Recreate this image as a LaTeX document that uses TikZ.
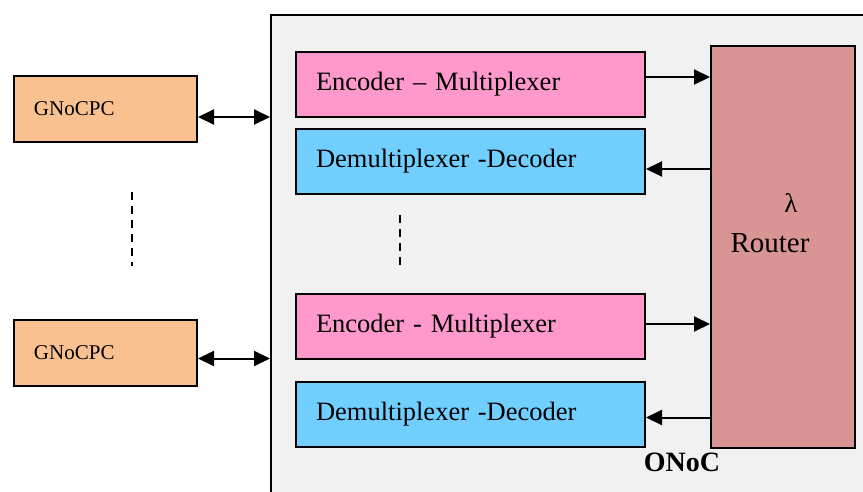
\documentclass[tikz,border=0pt]{standalone}
\usepackage{fontspec}
\setmainfont{Liberation Serif}
\usetikzlibrary{arrows.meta}
\definecolor{gnocfill}{HTML}{F8C18F}
\definecolor{encfill}{HTML}{FF99CC}
\definecolor{decfill}{HTML}{71CFFF}
\definecolor{routfill}{HTML}{D99594}
\definecolor{onocfill}{HTML}{F1F1F1}
\tikzset{
  blk/.style={draw=black, line width=2pt, inner xsep=20pt, inner ysep=0pt, align=left, anchor=north west},
  gnoc/.style={blk, fill=gnocfill, text width=143pt, minimum height=66pt, font=\fontsize{21}{24}\selectfont},
  enc/.style={blk, fill=encfill, text width=309pt, minimum height=65pt, font=\fontsize{26.5}{30}\selectfont},
  dec/.style={blk, fill=decfill, text width=309pt, minimum height=65pt, font=\fontsize{26.5}{30}\selectfont},
  tip/.tip={Triangle[length=16pt,width=15pt]},
  arr/.style={line width=2pt, -tip},
  darr/.style={line width=2pt, tip-tip},
  dots/.style={line width=1.4pt, dash pattern=on 8pt off 6pt}
}
\begin{document}
\begin{tikzpicture}[x=1pt,y=-1pt]
\useasboundingbox (0,0) rectangle (863,491);
\node[draw=black, line width=2pt, fill=onocfill, anchor=north west, minimum width=700pt, minimum height=600pt, inner sep=0pt] (onoc) at (270,14) {};
\node[gnoc] (g1) at (13,75) {GNoCPC};
\node[gnoc] (g2) at (13,319) {GNoCPC};
\node[enc] (e1) at (295,51) {Encoder – Multiplexer};
\node[dec] (d1) at (295,128) {Demultiplexer -Decoder};
\node[enc] (e2) at (295,293) {Encoder - Multiplexer};
\node[dec] (d2) at (295,381) {Demultiplexer -Decoder};
\node[draw=black, line width=2pt, fill=routfill, anchor=north west, minimum width=144pt, minimum height=402pt, inner sep=0pt] (router) at (710,45) {};
\node[font=\fontsize{27}{30}\selectfont, inner sep=0pt] (lam) at (791,203) {λ};
\node[font=\fontsize{29}{32}\selectfont, inner sep=0pt] (rt) at (770,243) {Router};
\node[font=\bfseries\fontsize{28}{32}\selectfont, inner sep=0pt] (onoclbl) at (682,462) {ONoC};
% connectors
\path (g1.east) ++(0,8) coordinate (q1);
\path (g2.east) ++(0,5.5) coordinate (q2);
\draw[darr] (q1) -- (q1 -| onoc.west);
\draw[darr] (q2) -- (q2 -| onoc.west);
\path (e1.east) ++(0,-7.5) coordinate (p1);
\path (d1.east) ++(0,7.5) coordinate (p2);
\path (e2.east) ++(0,-2.5) coordinate (p3);
\path (d2.east) ++(0,3) coordinate (p4);
\draw[arr] (p1) -- (p1 -| router.west);
\draw[arr] (p2 -| router.west) -- (p2);
\draw[arr] (p3) -- (p3 -| router.west);
\draw[arr] (p4 -| router.west) -- (p4);
% ellipsis dashes
\coordinate (v1) at (132,192);
\coordinate (v2) at (132,266);
\coordinate (v3) at (400,215);
\coordinate (v4) at (400,266);
\draw[dots] (v1) -- (v2);
\draw[dots] (v3) -- (v4);
\end{tikzpicture}
\end{document}
